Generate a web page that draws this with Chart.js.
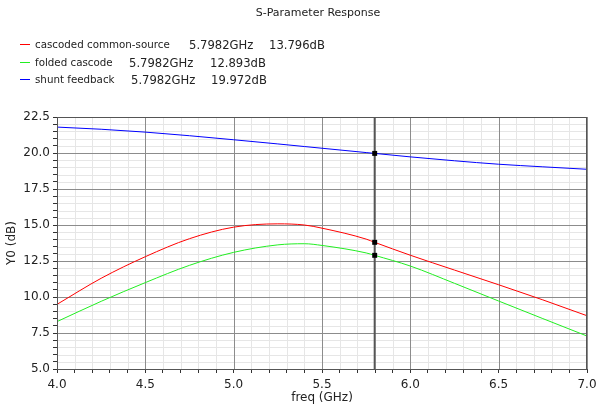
<!DOCTYPE html>
<html><head><meta charset="utf-8">
<script src="https://cdn.jsdelivr.net/npm/chart.js@4/dist/chart.umd.min.js"></script>
<style>
html,body{margin:0;padding:0;background:#fff;width:596px;height:409px;overflow:hidden;font-family:"DejaVu Sans",sans-serif;color:#222}
#wrap{position:relative;width:596px;height:409px}
canvas{position:absolute;left:0;top:0}
.t{position:absolute;white-space:nowrap;line-height:14px}
.sw{position:absolute;width:10px;height:1px}
</style></head><body>
<div id="wrap">
<canvas id="c" width="596" height="409"></canvas>
<div id="overlay"></div>
</div>
<script>
// ---- data ----
const title = "S-Parameter Response";
const seriesNames = ["cascoded common-source", "folded cascode", "shunt feedback"];
const seriesColors = ["#ff0000", "#22ee22", "#0000ff"];
const freq = [4.0, 4.25, 4.5, 4.75, 5.0, 5.25, 5.4, 5.5, 5.75, 5.7982, 6.0, 6.25, 6.5, 6.75, 7.0];
const cascoded = [9.49, 11.3, 12.8, 14.05, 14.85, 15.08, 15.0, 14.78, 14.02, 13.796, 12.9, 11.87, 10.85, 9.8, 8.7];
const folded = [8.29, 9.7, 11.0, 12.2, 13.1, 13.62, 13.7, 13.58, 13.06, 12.893, 12.15, 10.95, 9.72, 8.5, 7.29];
const shunt = [21.8, 21.65, 21.45, 21.2, 20.92, 20.63, 20.45, 20.33, 20.03, 19.972, 19.73, 19.46, 19.22, 19.04, 18.87];
const markerFreq = 5.7982;
const markerValues = [13.796, 12.893, 19.972];
const markerLabels = ["5.7982GHz", "5.7982GHz", "5.7982GHz"];
const markerValueLabels = ["13.796dB", "12.893dB", "19.972dB"];
const xRange = [4.0, 7.0];
const yRange = [5.0, 22.5];
const xTitle = "freq (GHz)";
const yTitle = "Y0 (dB)";

// ---- overlay text (title + legend) ----
const ov = document.getElementById('overlay');
function addText(txt, x, y, size, extra){
  const d = document.createElement('div'); d.className='t'; d.textContent=txt;
  d.style.left=x+'px'; d.style.top=y+'px'; d.style.fontSize=size+'px';
  if(extra) Object.assign(d.style, extra);
  ov.appendChild(d); return d;
}
addText(title, 0, 6, 11, {width:'596px', textAlign:'center', left:'20px'});
const rowsY = [44, 62, 79];
const freqX = [189, 129, 131];
const dbX = [269, 210, 211];
const allSeries = [cascoded, folded, shunt];
seriesNames.forEach((n,i)=>{
  const s=document.createElement('div'); s.className='sw';
  s.style.left='20px'; s.style.top=rowsY[i]+'px'; s.style.background=seriesColors[i];
  ov.appendChild(s);
  addText(n, 35, rowsY[i]-7, 10.3);
  addText(markerLabels[i], freqX[i], rowsY[i]-6, 11.6);
  addText(markerValueLabels[i], dbX[i], rowsY[i]-6, 11.6);
});

// ---- chart ----
const isMultiple = (v, step) => Math.abs(v/step - Math.round(v/step)) < 1e-6;
const gridPlugin = {
  id:'gridPlugin',
  beforeDatasetsDraw(chart){
    const a=chart.chartArea, c=chart.ctx, xs=chart.scales.x, ys=chart.scales.y;
    c.save(); c.lineWidth=1;
    const pass = (major, color) => {
      c.strokeStyle=color; c.beginPath();
      xs.ticks.forEach(t=>{
        if(isMultiple(t.value,0.5)!==major) return;
        const px=Math.round(xs.getPixelForValue(t.value))+0.5;
        c.moveTo(px,a.top); c.lineTo(px,a.bottom);
      });
      ys.ticks.forEach(t=>{
        if(isMultiple(t.value,2.5)!==major) return;
        const py=Math.round(ys.getPixelForValue(t.value))+0.5;
        c.moveTo(a.left,py); c.lineTo(a.right,py);
      });
      c.stroke();
    };
    pass(false,'#e6e6e6');
    pass(true,'#8c8c8c');
    c.restore();
  },
  afterDatasetsDraw(chart){
    const a=chart.chartArea, c=chart.ctx;
    c.save(); c.strokeStyle='#555'; c.lineWidth=1;
    c.strokeRect(Math.round(a.left)+0.5, Math.round(a.top)+0.5, Math.round(a.right-a.left)-1, Math.round(a.bottom-a.top));
    c.restore();
  }
};
const datasets = allSeries.map((arr,i)=>({
  label: seriesNames[i],
  data: freq.map((f,j)=>({x:f,y:arr[j]})),
  borderColor: seriesColors[i], borderWidth: 1, pointRadius: 0,
  cubicInterpolationMode: 'monotone', fill:false, order: 2
}));
datasets.push({
  label:'cursor', data:[{x:markerFreq,y:yRange[0]},{x:markerFreq,y:yRange[1]}],
  borderColor:'#555', borderWidth:2, pointRadius:0, order: 3
});
datasets.push({
  label:'markers', type:'scatter', data: markerValues.map(v=>({x:markerFreq,y:v})),
  pointStyle:'rect', pointRadius:3.5, backgroundColor:'#000', borderColor:'#000', borderWidth:0, order: 0
});

Chart.defaults.font.family = '"DejaVu Sans", sans-serif';
Chart.defaults.color = '#222';
new Chart(document.getElementById('c'), {
  type:'line',
  data:{datasets},
  options:{
    responsive:false, animation:false, devicePixelRatio:1,
    layout:{padding:{left:0, right:0, top:117, bottom:0}},
    plugins:{legend:{display:false}, title:{display:false}, tooltip:{enabled:false}},
    scales:{
      x:{
        type:'linear', min:xRange[0], max:xRange[1],
        afterFit(s){ s.height = 40; s.paddingRight = 9; },
        ticks:{stepSize:0.1, autoSkip:false, maxRotation:0, padding:5, font:{size:12}, color:'#222',
          callback:(v)=> isMultiple(v,0.5) ? v.toFixed(1) : ''},
        grid:{ drawOnChartArea:false, tickColor:'#333', tickLength:4, lineWidth:1 },
        border:{color:'#444'},
        title:{display:true, text:xTitle, font:{size:12}, color:'#222', padding:{top:0,bottom:4}}
      },
      y:{
        type:'linear', min:yRange[0], max:yRange[1],
        afterFit(s){ s.width = 57; },
        ticks:{stepSize:0.5, autoSkip:false, padding:3, font:{size:12}, color:'#222',
          callback:(v)=> isMultiple(v,2.5) ? v.toFixed(1) : ''},
        grid:{ drawOnChartArea:false, tickColor:'#333', tickLength:4, lineWidth:1 },
        border:{color:'#444'},
        title:{display:true, text:yTitle, font:{size:12}, color:'#222', padding:{top:5,bottom:0}}
      }
    }
  },
  plugins:[gridPlugin]
});
</script>
</body></html>
